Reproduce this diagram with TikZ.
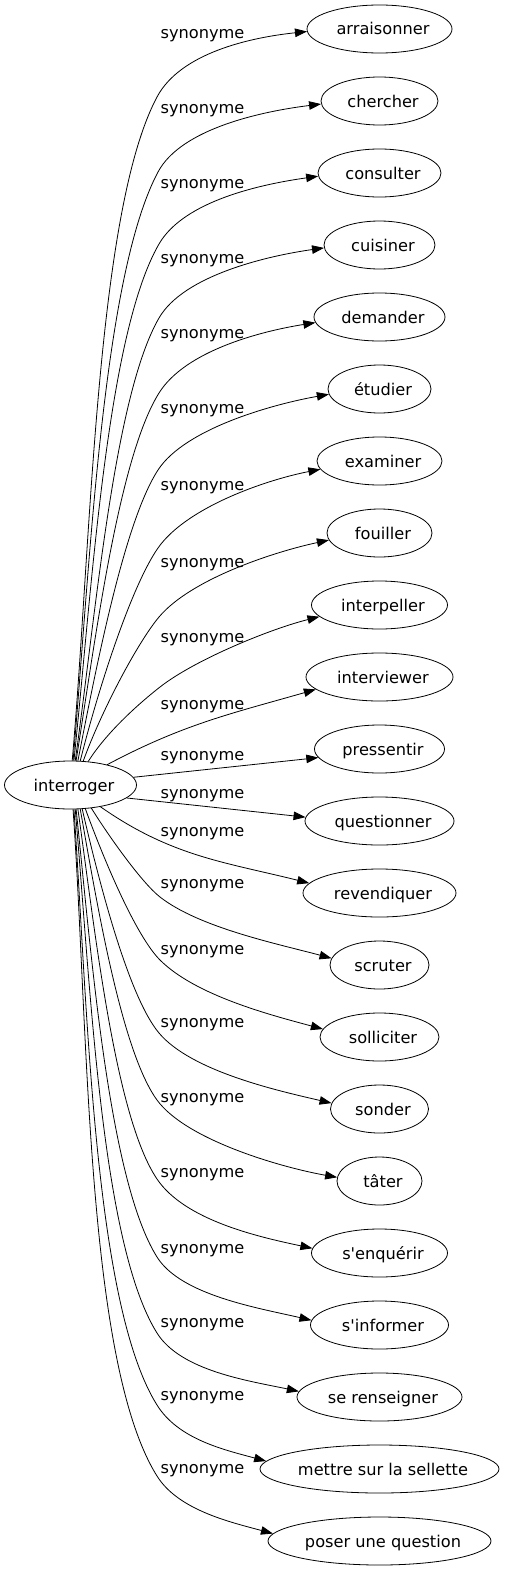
\documentclass[tikz,border=0pt]{standalone}
\usepackage{fontspec}
\newfontfamily\dejavu{DejaVu Sans}
\usetikzlibrary{shapes.geometric,arrows.meta}
\tikzset{
  syn/.style={ellipse, draw, line width=0.8pt, minimum height=48pt, inner sep=0pt, text height=12pt, text depth=0pt},
  lab/.style={anchor=base, inner sep=0pt},
  synarrow/.style={draw, line width=0.8pt, -{Triangle[length=12pt,width=8.5pt]}},
}
\newcommand\nt[1]{\makebox[0pt]{\hspace{7pt}#1}}
\begin{document}
\begin{tikzpicture}[x=1pt,y=1pt,font=\dejavu\fontsize{16.2pt}{19pt}\selectfont]
\useasboundingbox (0,0) rectangle (504,-1571);
% source
\node[syn, minimum width=132pt] (int) at (70.5,-785) {\nt{interroger}};
% targets
\node[syn, minimum width=145pt] (n0) at (379.5,-29) {\nt{arraisonner}};
\node[syn, minimum width=117pt] (n1) at (379.5,-101) {\nt{chercher}};
\node[syn, minimum width=123pt] (n2) at (379.5,-173) {\nt{consulter}};
\node[syn, minimum width=111pt] (n3) at (379.5,-245) {\nt{cuisiner}};
\node[syn, minimum width=131pt] (n4) at (379.5,-317) {\nt{demander}};
\node[syn, minimum width=103pt] (n5) at (379.5,-389) {\nt{étudier}};
\node[syn, minimum width=125pt] (n6) at (379.5,-461) {\nt{examiner}};
\node[syn, minimum width=105pt] (n7) at (379.5,-533) {\nt{fouiller}};
\node[syn, minimum width=136pt] (n8) at (379.5,-605) {\nt{interpeller}};
\node[syn, minimum width=147pt] (n9) at (379.5,-677) {\nt{interviewer}};
\node[syn, minimum width=130pt] (n10) at (379.5,-749) {\nt{pressentir}};
\node[syn, minimum width=149pt] (n11) at (379.5,-821) {\nt{questionner}};
\node[syn, minimum width=153pt] (n12) at (379.5,-893) {\nt{revendiquer}};
\node[syn, minimum width=99pt] (n13) at (379.5,-965) {\nt{scruter}};
\node[syn, minimum width=119pt] (n14) at (379.5,-1037) {\nt{solliciter}};
\node[syn, minimum width=98pt] (n15) at (379.5,-1109) {\nt{sonder}};
\node[syn, minimum width=85pt] (n16) at (379.5,-1181) {\nt{tâter}};
\node[syn, minimum width=136pt] (n17) at (379.5,-1253) {\nt{s'enquérir}};
\node[syn, minimum width=138pt] (n18) at (379.5,-1325) {\nt{s'informer}};
\node[syn, minimum width=165pt] (n19) at (379.5,-1397) {\nt{se renseigner}};
\node[syn, minimum width=239pt] (n20) at (379.5,-1469) {\nt{mettre sur la sellette}};
\node[syn, minimum width=223pt] (n21) at (379.5,-1541) {\nt{poser une question}};
% labels
\node[lab] (l0) at (202.5,-39) {synonyme};
\node[lab] (l1) at (202.5,-113) {synonyme};
\node[lab] (l2) at (202.5,-188) {synonyme};
\node[lab] (l3) at (202.5,-263) {synonyme};
\node[lab] (l4) at (202.5,-338) {synonyme};
\node[lab] (l5) at (202.5,-413) {synonyme};
\node[lab] (l6) at (202.5,-490) {synonyme};
\node[lab] (l7) at (202.5,-567) {synonyme};
\node[lab] (l8) at (202.5,-642) {synonyme};
\node[lab] (l9) at (202.5,-709) {synonyme};
\node[lab] (l10) at (202.5,-760) {synonyme};
\node[lab] (l11) at (202.5,-798) {synonyme};
\node[lab] (l12) at (202.5,-836) {synonyme};
\node[lab] (l13) at (202.5,-888) {synonyme};
\node[lab] (l14) at (202.5,-954) {synonyme};
\node[lab] (l15) at (202.5,-1027) {synonyme};
\node[lab] (l16) at (202.5,-1102) {synonyme};
\node[lab] (l17) at (202.5,-1177) {synonyme};
\node[lab] (l18) at (202.5,-1253) {synonyme};
\node[lab] (l19) at (202.5,-1327) {synonyme};
\node[lab] (l20) at (202.5,-1400) {synonyme};
\node[lab] (l21) at (202.5,-1473) {synonyme};
% knee points
\coordinate (k0) at (157,-97);
\coordinate (k1) at (158,-172);
\coordinate (k2) at (159,-244);
\coordinate (k3) at (159,-318);
\coordinate (k4) at (159,-393);
\coordinate (k5) at (158,-470);
\coordinate (k6) at (158,-548);
\coordinate (k7) at (159,-617);
\coordinate (k8) at (160,-687);
\coordinate (k13) at (160,-897);
\coordinate (k14) at (160,-960);
\coordinate (k15) at (159,-1033);
\coordinate (k16) at (157,-1100);
\coordinate (k17) at (157,-1179);
\coordinate (k18) at (157,-1257);
\coordinate (k19) at (157,-1333);
\coordinate (k20) at (157,-1405);
\coordinate (k21) at (157,-1476);
% edges
\draw[synarrow] (int.86) to[out=85,in=242,out distance=220pt,in distance=130pt] (k0) to[out=62,in=186,out distance=50pt,in distance=57pt] (n0.182);
\draw[synarrow] (int.84) to[out=85,in=242,out distance=197pt,in distance=119pt] (k1) to[out=62,in=187,out distance=50pt,in distance=57pt] (n1.183);
\draw[synarrow] (int.82) to[out=84,in=240,out distance=173pt,in distance=105pt] (k2) to[out=60,in=188,out distance=50pt,in distance=57pt] (n2.183);
\draw[synarrow] (int.79) to[out=82,in=240,out distance=149pt,in distance=90pt] (k3) to[out=60,in=188,out distance=50pt,in distance=55pt] (n3.183);
\draw[synarrow] (int.77) to[out=81,in=238,out distance=125pt,in distance=76pt] (k4) to[out=58,in=189,out distance=50pt,in distance=55pt] (n4.185);
\draw[synarrow] (int.73) to[out=79,in=237,out distance=100pt,in distance=61pt] (k5) to[out=57,in=190,out distance=50pt,in distance=55pt] (n5.186);
\draw[synarrow] (int.68) to[out=76,in=235,out distance=75pt,in distance=46pt] (k6) to[out=55,in=191,out distance=50pt,in distance=55pt] (n6.188);
\draw[synarrow] (int.62) to[out=70,in=230,out distance=54pt,in distance=33pt] (k7) to[out=50,in=192,out distance=50pt,in distance=55pt] (n7.188);
\draw[synarrow] (int.53) to[out=58,in=218,out distance=35pt,in distance=25pt] (k8) to[out=38,in=194,out distance=45pt,in distance=50pt] (n8.191);
\draw[synarrow] (int.29) to[out=28,in=196] (n9.191);
\draw[synarrow] (int.7) -- (n10.188);
\draw[synarrow] (int.-13) -- (n11.177);
\draw[synarrow] (int.-36) to[out=-35,in=166] (n12.172);
\draw[synarrow] (int.-48) to[out=-58,in=142,out distance=37pt,in distance=22pt] (k13) to[out=-38,in=165,out distance=50pt,in distance=55pt] (n13.172);
\draw[synarrow] (int.-58) to[out=-70,in=135,out distance=55pt,in distance=34pt] (k14) to[out=-45,in=165,out distance=50pt,in distance=55pt] (n14.172);
\draw[synarrow] (int.-64) to[out=-77,in=130,out distance=78pt,in distance=47pt] (k15) to[out=-50,in=167,out distance=50pt,in distance=55pt] (n15.173);
\draw[synarrow] (int.-68) to[out=-80,in=126,out distance=99pt,in distance=60pt] (k16) to[out=-54,in=170,out distance=50pt,in distance=55pt] (n16.175);
\draw[synarrow] (int.-73) to[out=-82,in=124,out distance=124pt,in distance=75pt] (k17) to[out=-56,in=168,out distance=50pt,in distance=55pt] (n17.176);
\draw[synarrow] (int.-77) to[out=-84,in=122,out distance=150pt,in distance=91pt] (k18) to[out=-58,in=167,out distance=45pt,in distance=55pt] (n18.176);
\draw[synarrow] (int.-79) to[out=-85,in=122,out distance=175pt,in distance=106pt] (k19) to[out=-58,in=168,out distance=45pt,in distance=50pt] (n19.176);
\draw[synarrow] (int.-82) to[out=-86,in=122,out distance=198pt,in distance=120pt] (k20) to[out=-58,in=165,out distance=40pt,in distance=45pt] (n20.176);
\draw[synarrow] (int.-84) to[out=-86,in=122,out distance=221pt,in distance=134pt] (k21) to[out=-58,in=165,out distance=40pt,in distance=45pt] (n21.176);
\end{tikzpicture}
\end{document}
